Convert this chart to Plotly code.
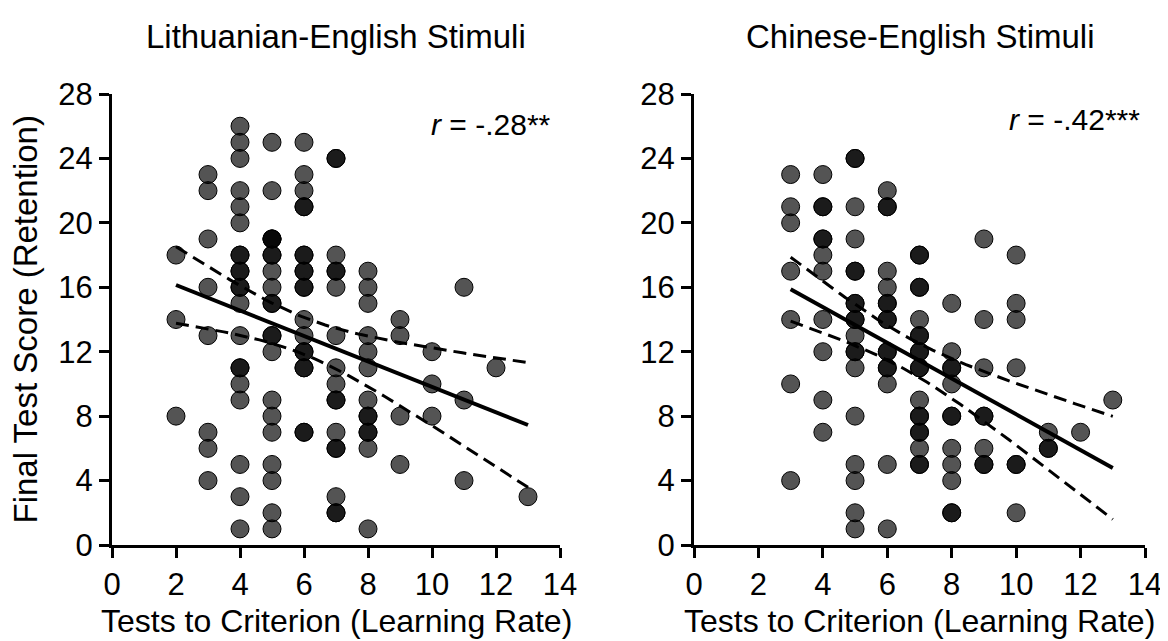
import numpy as np
import plotly.graph_objects as go

# ---- Data ----
# Lithuanian-English stimuli: tests-to-criterion values and the final test scores at each value
lit_tests = [2, 3, 4, 5, 6, 7, 8, 9, 10, 11, 12, 13]
lit_scores = [
    [18, 14, 8],
    [23, 22, 19, 16, 13, 7, 6, 4],
    [26, 25, 24, 22, 21, 20, 18, 18, 17, 17, 16, 16, 15, 13, 11, 11, 10, 9, 5, 3, 1],
    [25, 22, 19, 19, 19, 18, 18, 17, 16, 15, 15, 13, 13, 12, 9, 8, 7, 5, 4, 2, 1],
    [25, 23, 22, 21, 21, 18, 18, 17, 17, 16, 16, 14, 13, 12, 12, 11, 11, 7, 7],
    [24, 24, 18, 17, 17, 16, 13, 11, 10, 9, 9, 7, 6, 6, 3, 2, 2],
    [17, 16, 15, 13, 12, 11, 9, 8, 8, 7, 7, 6, 1],
    [14, 13, 8, 5],
    [12, 10, 8],
    [16, 9, 4],
    [11],
    [3],
]

# Chinese-English stimuli
chn_tests = [3, 4, 5, 6, 7, 8, 9, 10, 11, 12, 13]
chn_scores = [
    [23, 21, 20, 17, 14, 10, 4],
    [23, 21, 21, 19, 19, 18, 17, 14, 12, 9, 7],
    [24, 24, 21, 19, 17, 17, 15, 15, 14, 14, 13, 12, 12, 11, 8, 5, 4, 2, 1],
    [22, 21, 21, 17, 16, 15, 15, 14, 14, 12, 12, 11, 11, 10, 5, 1],
    [18, 18, 16, 16, 14, 13, 13, 12, 12, 11, 11, 9, 8, 8, 7, 7, 6, 5, 5],
    [15, 12, 11, 11, 10, 8, 8, 6, 5, 4, 2, 2],
    [19, 14, 11, 8, 8, 6, 5, 5],
    [18, 15, 14, 11, 5, 5, 2],
    [7, 6, 6],
    [7],
    [9],
]

panel_titles = ["Lithuanian-English Stimuli", "Chinese-English Stimuli"]
r_labels = ["<i>r</i> = -.28**", "<i>r</i> = -.42***"]
x_title = "Tests to Criterion (Learning Rate)"
y_title = "Final Test Score (Retention)"
x_ticks = [0, 2, 4, 6, 8, 10, 12, 14]
y_ticks = [0, 4, 8, 12, 16, 20, 24, 28]
T_CRIT = 1.98  # two-sided 95% t critical value, df ~ 100


def flatten(tests, scores):
    xs, ys = [], []
    for t, col in zip(tests, scores):
        for s in col:
            xs.append(t)
            ys.append(s)
    return np.array(xs, float), np.array(ys, float)


def fit_with_ci(x, y):
    n = len(x)
    b1, b0 = np.polyfit(x, y, 1)
    resid = y - (b0 + b1 * x)
    s = np.sqrt(np.sum(resid ** 2) / (n - 2))
    xbar = x.mean()
    sxx = np.sum((x - xbar) ** 2)
    grid = np.linspace(x.min(), x.max(), 60)
    yhat = b0 + b1 * grid
    se = s * np.sqrt(1.0 / n + (grid - xbar) ** 2 / sxx)
    return grid, yhat, yhat - T_CRIT * se, yhat + T_CRIT * se


FONT = "Liberation Sans, Arial, Helvetica, sans-serif"
fig = go.Figure()

panels = [(lit_tests, lit_scores, "x", "y"), (chn_tests, chn_scores, "x2", "y2")]
for (tests, scores, xa, ya) in panels:
    x, y = flatten(tests, scores)
    fig.add_trace(go.Scatter(
        x=x, y=y, mode="markers", xaxis=xa, yaxis=ya, showlegend=False,
        marker=dict(size=18, color="rgba(0,0,0,0.67)",
                    line=dict(color="black", width=1)),
    ))
    gx, gy, lo, hi = fit_with_ci(x, y)
    fig.add_trace(go.Scatter(x=gx, y=gy, mode="lines", xaxis=xa, yaxis=ya,
                             showlegend=False, line=dict(color="black", width=4)))
    for band in (lo, hi):
        fig.add_trace(go.Scatter(x=gx, y=band, mode="lines", xaxis=xa, yaxis=ya,
                                 showlegend=False,
                                 line=dict(color="black", width=3, dash="13px,7px")))

# The page body has an 8px margin, so the figure is placed 8px in from the window corner.
OFF = 8
W, H = 1168 - OFF, 641 - OFF


def px_x(p):
    return (p - OFF) / W


def px_y(p):
    return 1 - (p - OFF) / H


xdom1 = [px_x(112), px_x(560)]
xdom2 = [px_x(694), px_x(1145)]
ydom = [px_y(545), px_y(94)]

axis_common = dict(
    showline=True, linecolor="black", linewidth=3, mirror=False,
    ticks="outside", ticklen=10, tickwidth=3, tickcolor="black",
    showgrid=False, zeroline=False, automargin=False,
    tickfont=dict(family=FONT, size=31, color="black"),
)

fig.update_layout(
    width=W, height=H,
    margin=dict(l=0, r=0, t=0, b=0, autoexpand=False),
    paper_bgcolor="white", plot_bgcolor="white",
    font=dict(family=FONT, color="black"),
    xaxis=dict(domain=xdom1, range=[0, 14], tickvals=x_ticks, anchor="y", **axis_common),
    yaxis=dict(domain=ydom, range=[0, 28], tickvals=y_ticks, anchor="x", **axis_common),
    xaxis2=dict(domain=xdom2, range=[0, 14], tickvals=x_ticks, anchor="y2", **axis_common),
    yaxis2=dict(domain=ydom, range=[0, 28], tickvals=y_ticks, anchor="x2", **axis_common),
)

annotations = []
for i, dom in enumerate([xdom1, xdom2]):
    cx = (dom[0] + dom[1]) / 2
    annotations.append(dict(text=panel_titles[i], xref="paper", yref="paper",
                            x=cx, y=px_y(37), xanchor="center", yanchor="middle",
                            showarrow=False, font=dict(family=FONT, size=33)))
    annotations.append(dict(text=x_title, xref="paper", yref="paper",
                            x=cx, y=px_y(621), xanchor="center", yanchor="middle",
                            showarrow=False, font=dict(family=FONT, size=32)))
annotations.append(dict(text=y_title, xref="paper", yref="paper", textangle=-90,
                        x=px_x(25), y=(ydom[0] + ydom[1]) / 2, xanchor="center", yanchor="middle",
                        showarrow=False, font=dict(family=FONT, size=33)))
annotations.append(dict(text=r_labels[0], xref="x", yref="y", x=13.78, y=26.1,
                        xanchor="right", yanchor="middle", showarrow=False,
                        font=dict(family=FONT, size=30)))
annotations.append(dict(text=r_labels[1], xref="x2", yref="y2", x=13.9, y=26.4,
                        xanchor="right", yanchor="middle", showarrow=False,
                        font=dict(family=FONT, size=30)))
fig.update_layout(annotations=annotations)

fig.write_html("out.html")
